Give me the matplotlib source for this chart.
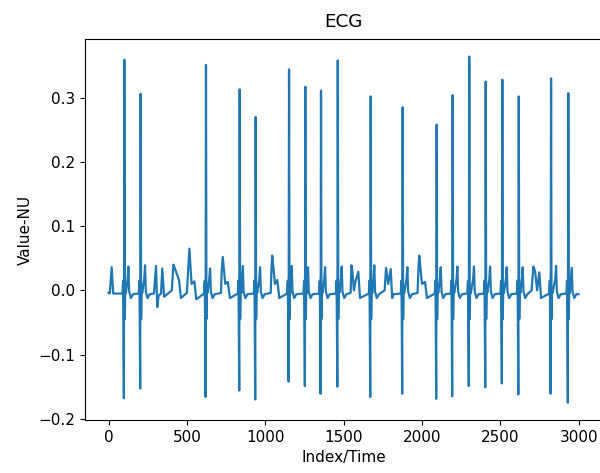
import numpy as np
import matplotlib
matplotlib.use("Agg")
import matplotlib.pyplot as plt

# big beats: R peak index, R peak value, S trough value, T wave index, T wave value
r_idx = [101, 205, 622, 837, 939, 1152, 1256, 1356, 1463, 1673, 1877,
         2094, 2196, 2302, 2407, 2513, 2618, 2824, 2934]
r_val = [0.359, 0.306, 0.351, 0.313, 0.270, 0.344, 0.317, 0.311, 0.358, 0.302, 0.285,
         0.258, 0.304, 0.364, 0.325, 0.328, 0.302, 0.330, 0.307]
s_val = [-0.168, -0.153, -0.166, -0.156, -0.170, -0.142, -0.149, -0.161, -0.150, -0.166, -0.161,
         -0.169, -0.165, -0.149, -0.151, -0.145, -0.162, -0.161, -0.175]
t_idx = [127, 233, 648, 857, 967, 1169, 1273, 1382, 1488, 1696, 1907,
         2120, 2226, 2332, 2435, 2541, 2643, 2856, 2956]
t_val = [0.037, 0.039, 0.034, 0.038, 0.036, 0.038, 0.036, 0.036, 0.037, 0.039, 0.036,
         0.036, 0.037, 0.037, 0.037, 0.036, 0.036, 0.038, 0.035]

# smaller waves between the big beats (index, value)
extra_idx = [0, 8, 20, 30, 290, 303, 311, 320, 335, 343, 355, 404, 414, 422, 450, 462,
             500, 508, 516, 530, 548, 560, 718, 722, 729, 745, 761, 775,
             1035, 1040, 1045, 1062, 1077, 1090, 1545, 1550, 1556, 1566, 1574, 1594, 1605,
             1762, 1771, 1785, 1801, 1810, 1820, 1972, 1978, 1983, 2000, 2020, 2032,
             2700, 2711, 2722, 2735, 2749, 2760, 2999]
extra_val = [-0.004, -0.005, 0.036, -0.005, -0.005, 0.038, -0.026, -0.008, -0.005, 0.034, -0.010,
             0.000, 0.040, 0.035, 0.016, -0.012,
             -0.004, 0.030, 0.065, 0.010, 0.014, -0.014, -0.004, 0.030, 0.052, 0.010, 0.013, -0.012,
             -0.004, 0.035, 0.054, 0.010, 0.016, -0.012, -0.004, 0.039, 0.030, 0.000, 0.012, 0.029, -0.012,
             0.000, 0.035, 0.010, 0.033, -0.012, -0.006, -0.004, 0.035, 0.054, 0.010, 0.013, -0.012,
             0.000, 0.037, 0.030, 0.000, 0.028, -0.012, -0.006]

pts = list(zip(extra_idx, extra_val))
for r, rv, sv, t, tv in zip(r_idx, r_val, s_val, t_idx, t_val):
    pts += [(r - 12, -0.005), (r - 8, 0.015), (r - 6, -0.035), (r - 3, sv), (r, rv),
            (r + 3, -0.045), (r + 6, 0.005), (r + 10, -0.004), (t - 5, 0.018), (t, tv),
            (t + 5, -0.002), (t + 16, -0.012), (t + 30, -0.006)]
pts.sort()
x = np.array([p[0] for p in pts])
y = np.array([p[1] for p in pts])

plt.rcParams['font.size'] = 11
fig, ax = plt.subplots(figsize=(6, 4.73), dpi=100)
# the reference is cut off on the right, so the right spine sits just past the edge
fig.subplots_adjust(left=0.1417, right=1.0033, top=0.917, bottom=0.112)
ax.plot(x, y, color='#1f77b4', lw=1.6)
ax.set_title('ECG', pad=9)
ax.set_xlabel('Index/Time')
ax.set_ylabel('Value-NU')
plt.savefig('out.png')
